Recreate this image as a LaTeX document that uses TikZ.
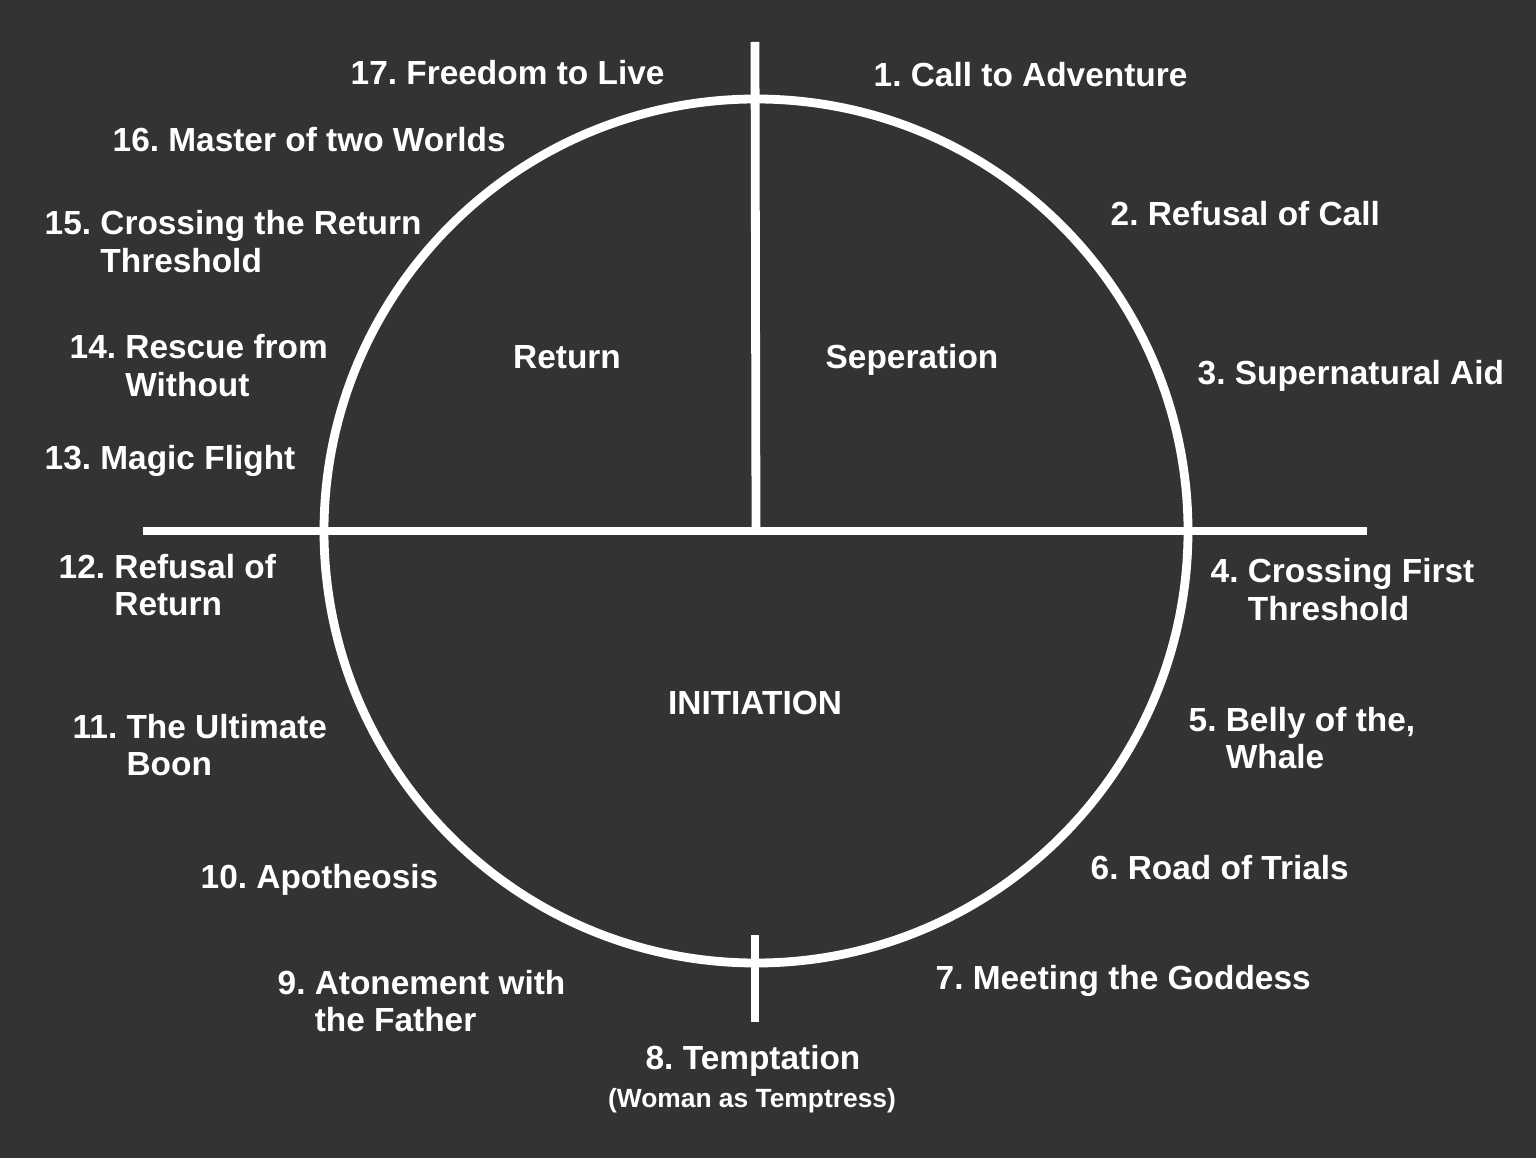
\documentclass[tikz,border=0pt]{standalone}
\usepackage{fontspec}
\setmainfont{Liberation Sans}
\usetikzlibrary{positioning}

\definecolor{bgdark}{HTML}{333333}

\newcommand{\twolines}[3]{\begin{tabular}[t]{@{}l@{\ }l@{}}#1 & #2\\ & #3\end{tabular}}

\tikzset{
	stage/.style={anchor=base west, inner sep=0pt, text=white, font=\bfseries\frenchspacing\fontsize{9.5}{10.7}\selectfont},
	phase/.style={anchor=base, inner sep=0pt, text=white, font=\bfseries\frenchspacing\fontsize{9.5}{10.7}\selectfont},
	wheel/.style={draw=white, line width=2.5pt}
}

\begin{document}
\frenchspacing
\begin{tikzpicture}[x=0.01cm, y=-0.01cm]
	\fill[bgdark] (0,0) rectangle (1536,1158);
	\useasboundingbox (0,0) rectangle (1536,1158);

	% the wheel and its cross lines
	\coordinate (centre) at (756,531);
	\coordinate (top) at (755,42);
	\coordinate (west) at (143,531);
	\coordinate (east) at (1367,531);
	\coordinate (low1) at (755,935);
	\coordinate (low2) at (755,1022);
	\draw[wheel] (centre) circle[radius=432];
	\draw[wheel] (west) -- (east);
	\draw[wheel] (top) -- (centre);
	\draw[wheel] (low1) -- (low2);

	% the three phases
	\draw (567,369) node[phase] (return) {Return};
	\draw (912,369) node[phase] (seperation) {Seperation};
	\draw (755,715) node[phase] (initiation) {INITIATION};

	% stages on one line
	\foreach \n/\x/\y/\txt in {1/873/87/{1. Call to Adventure}, 2/1110/226/{2. Refusal of Call},
		3/1197/385/{3. Supernatural Aid}, 6/1090/879/{6. Road of Trials},
		7/935/989/{7. Meeting the Goddess}, 10/200/888/{10. Apotheosis},
		13/44/470/{13. Magic Flight}, 16/112/152/{16. Master of two Worlds},
		17/350/85/{17. Freedom to Live}}{
		\draw (\x,\y) node[stage] (s\n) {\txt};
	}

	% stages on two lines
	\foreach \n/\x/\y/\num/\first/\second in {4/1210/583/{4.}/{Crossing First}/{Threshold},
		5/1188/731/{5.}/{Belly of the,}/{Whale}, 9/277/994/{9.}/{Atonement with}/{the Father},
		11/72/738/{11.}/{The Ultimate}/{Boon}, 12/58/578/{12.}/{Refusal of}/{Return},
		14/69/359/{14.}/{Rescue from}/{Without}, 15/44/235/{15.}/{Crossing the Return}/{Threshold}}{
		\draw (\x,\y) node[stage] (s\n) {\twolines{\num}{\first}{\second}};
	}

	% stage 8 sits below the wheel
	\draw (753,1069) node[phase] (s8) {8. Temptation};
	\draw (752,1107) node[phase, font=\bfseries\fontsize{7.5}{9}\selectfont] (s8note) {(Woman as Temptress)};
\end{tikzpicture}
\end{document}
